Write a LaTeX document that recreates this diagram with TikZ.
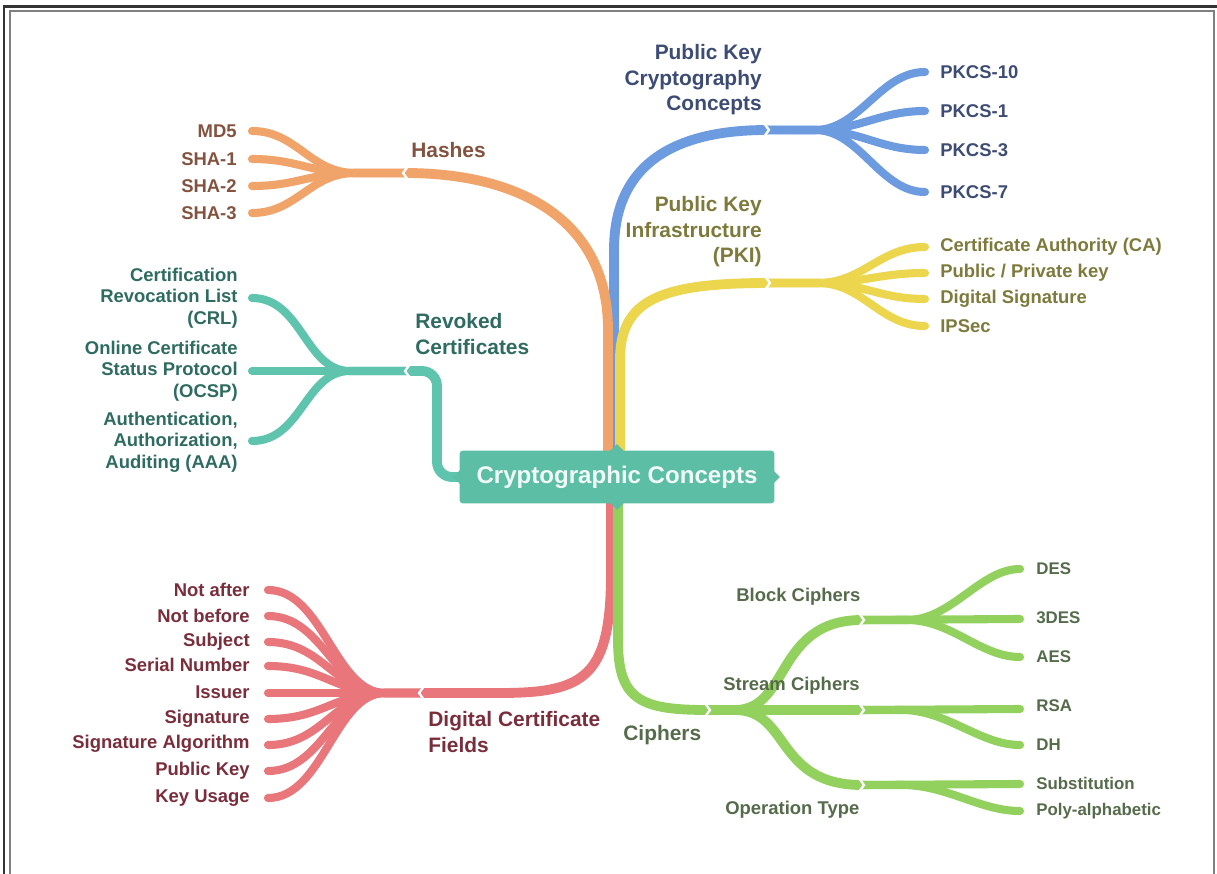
\documentclass[tikz,border=0pt]{standalone}
\usepackage{fontspec}
\setmainfont{Liberation Sans}
\definecolor{orL}{HTML}{F0A46A}
\definecolor{orT}{HTML}{84533F}
\definecolor{blL}{HTML}{6C9BE0}
\definecolor{blT}{HTML}{3D4C74}
\definecolor{yeL}{HTML}{EBD64E}
\definecolor{yeT}{HTML}{7D7A3C}
\definecolor{teL}{HTML}{5EC4AE}
\definecolor{teT}{HTML}{2E6B60}
\definecolor{boxC}{HTML}{5BBEA5}
\definecolor{reL}{HTML}{E8767A}
\definecolor{reT}{HTML}{7A2E3C}
\definecolor{grL}{HTML}{93D15E}
\definecolor{grT}{HTML}{566B4C}
\begin{document}
\begin{tikzpicture}[x=0.02cm,y=-0.02cm,
  trunk/.style={line width=5.6pt},
  leafline/.style={line width=4.6pt, line cap=round},
  notchw/.style={white, line width=1.3pt},
  lt/.style={font=\fontsize{10.5}{12.2}\selectfont\bfseries, inner sep=0pt},
  bt/.style={font=\fontsize{11.9}{14.5}\selectfont\bfseries, inner sep=0pt},
  gt/.style={font=\fontsize{9.6}{11}\selectfont\bfseries, inner sep=0pt},
  lR/.style={lt, anchor=east, align=right},
  lL/.style={lt, anchor=west, align=left},
]
\useasboundingbox (0,0) rectangle (1217,874);
\fill[white] (0,0) rectangle (1217,874);
% frame
\draw[line width=1.7pt, black!80] (4,874) -- (4,7) -- (1217,7);
\draw[line width=0.9pt, black!50] (10,874) -- (10,11) -- (1214,11) -- (1214,874);

% ---------- coordinates ----------
\coordinate (oS) at (608,452);
\coordinate (bS) at (614,452);
\coordinate (yS) at (620,452);
\coordinate (tS) at (458,477);
\coordinate (rS) at (611,502);
\coordinate (gS) at (618,502);

\coordinate (hJ) at (405,173);  \coordinate (hS) at (355,173);
\coordinate (md5t) at (252,131); \coordinate (sha1t) at (252,159);
\coordinate (sha2t) at (252,186); \coordinate (sha3t) at (252,213);

\coordinate (bJ) at (767,130);  \coordinate (bSp) at (815,130);
\coordinate (p10t) at (925,72);  \coordinate (p1t) at (925,111);
\coordinate (p3t) at (925,150);  \coordinate (p7t) at (925,192);

\coordinate (yJ) at (768,283);  \coordinate (ySp) at (818,283);
\coordinate (cat) at (925,247);  \coordinate (ppt) at (925,273);
\coordinate (dst) at (925,299);  \coordinate (ipt) at (925,326);

\coordinate (tJ) at (407,371);  \coordinate (tSp) at (350,371);
\coordinate (crlt) at (252,298); \coordinate (ocspt) at (252,371);
\coordinate (aaat) at (252,441);

\coordinate (rJ) at (421,693);  \coordinate (rSp) at (385,693);
\coordinate (r1) at (268,590); \coordinate (r2) at (268,616);
\coordinate (r3) at (268,642); \coordinate (r4) at (268,666);
\coordinate (r5) at (268,693); \coordinate (r6) at (268,719);
\coordinate (r7) at (268,745); \coordinate (r8) at (268,771);
\coordinate (r9) at (268,798);

\coordinate (gJ) at (708,710);
\coordinate (bcJ) at (862,620); \coordinate (scJ) at (862,710); \coordinate (otJ) at (862,785);
\coordinate (dest) at (1020,569); \coordinate (des3t) at (1020,619); \coordinate (aest) at (1020,657);
\coordinate (rsat) at (1020,709); \coordinate (dht) at (1020,745);
\coordinate (subt) at (1020,784); \coordinate (polyt) at (1020,811);

% ---------- trunks ----------
\draw[trunk,blL] (bS) -- ++(0,-202) .. controls +(0,-90) and +(-87,0) .. (bJ);
\draw[trunk,orL] (oS) -- ++(0,-122) .. controls +(0,-110) and +(115,0) .. (hJ);
\draw[trunk,yeL] (yS) -- ++(0,-92) .. controls +(0,-60) and +(-108,0) .. (yJ);
\draw[trunk,teL,rounded corners=0.3cm] (tS) -- ++(-21,0) -- ++(0,-106) -- (tJ);
\draw[trunk,reL] (rS) -- ++(0,70) .. controls +(0,105) and +(85,0) .. ++(-111,121) -- (rJ);
\draw[trunk,grL] (gS) -- ++(0,138) .. controls +(0,60) and +(-68,0) .. (gJ);

% ---------- fans ----------
\foreach \t in {md5t,sha1t,sha2t,sha3t}
  \draw[leafline,orL] (hJ) -- (hS) .. controls +(-45,0) and +(45,0) .. (\t);
\foreach \t in {p10t,p1t,p3t,p7t}
  \draw[leafline,blL] (bJ) -- (bSp) .. controls +(45,0) and +(-45,0) .. (\t);
\foreach \t in {cat,ppt,dst,ipt}
  \draw[leafline,yeL] (yJ) -- (ySp) .. controls +(45,0) and +(-45,0) .. (\t);
\foreach \t in {crlt,ocspt,aaat}
  \draw[leafline,teL] (tJ) -- (tSp) .. controls +(-45,0) and +(50,0) .. (\t);
\foreach \t in {r1,r2,r3,r4,r5,r6,r7,r8,r9}
  \draw[leafline,reL] (rJ) -- (rSp) .. controls +(-50,0) and +(55,0) .. (\t);

% green sub-branches
\draw[trunk,grL] (gJ) -- ++(27,0) .. controls +(55,0) and +(-87,0) .. (bcJ);
\draw[trunk,grL] (gJ) -- (scJ);
\draw[trunk,grL] (gJ) -- ++(27,0) .. controls +(55,0) and +(-87,0) .. (otJ);
\draw[leafline,grL] (bcJ) -- ++(45,0) .. controls +(45,0) and +(-40,0) .. (dest);
\draw[leafline,grL] (bcJ) -- (des3t);
\draw[leafline,grL] (bcJ) -- ++(45,0) .. controls +(45,0) and +(-40,0) .. (aest);
\draw[leafline,grL] (scJ) -- (rsat);
\draw[leafline,grL] (scJ) -- ++(40,0) .. controls +(45,0) and +(-40,0) .. (dht);
\draw[leafline,grL] (otJ) -- (subt);
\draw[leafline,grL] (otJ) -- ++(40,0) .. controls +(45,0) and +(-40,0) .. (polyt);

% ---------- notches ----------
\foreach \j in {hJ,tJ,rJ}
  \draw[notchw] (\j) ++(4,-8) -- ++(-6,8) -- ++(6,8);
\foreach \j in {bJ,yJ,gJ,bcJ,scJ,otJ}
  \draw[notchw] (\j) ++(-4,-8) -- ++(6,8) -- ++(-6,8);

% ---------- centre ----------
\node[fill=boxC, rounded corners=2pt, minimum width=6.3cm, minimum height=1.06cm,
      text=white!92!boxC, font=\fontsize{13.7}{16}\selectfont\bfseries] (cc) at (617,477) {Cryptographic Concepts};
\fill[boxC] (cc.north) ++(-7,1) -- ++(7,-7) -- ++(7,7) -- cycle;
\fill[boxC] (cc.south) ++(-7,-1) -- ++(7,7) -- ++(7,-7) -- cycle;
\fill[boxC] (cc.west) ++(1,-7) -- ++(-7,7) -- ++(7,7) -- cycle;
\fill[boxC] (cc.east) ++(-1,-6) -- ++(6,6) -- ++(-6,6) -- cycle;

% ---------- labels ----------
\node[bt, anchor=west, text=orT] (hashes) at (411,150) {Hashes};
\node[lR, text=orT] (md5) at (237,131) {MD5};
\node[lR, text=orT] (sha1) at (237,159) {SHA-1};
\node[lR, text=orT] (sha2) at (237,186) {SHA-2};
\node[lR, text=orT] (sha3) at (237,213) {SHA-3};

\node[bt, anchor=east, align=right, text=blT] (pkc) at (762,80) {Public Key\\Cryptography\\Concepts};
\node[lL, text=blT] (pk10) at (940,72) {PKCS-10};
\node[lL, text=blT] (pk1) at (940,111) {PKCS-1};
\node[lL, text=blT] (pk3) at (940,150) {PKCS-3};
\node[lL, text=blT] (pk7) at (940,192) {PKCS-7};

\node[bt, anchor=east, align=right, text=yeT] (pki) at (762,232) {Public Key\\Infrastructure\\(PKI)};
\node[lL, text=yeT] (ca) at (940,247) {Certificate Authority (CA)};
\node[lL, text=yeT] (pp) at (940,273) {Public / Private key};
\node[lL, text=yeT] (ds) at (940,299) {Digital Signature};
\node[lL, text=yeT] (ips) at (940,326) {IPSec};

\node[bt, anchor=west, align=left, text=teT] (rev) at (415,334) {Revoked\\Certificates};
\node[lR, text=teT] (crl) at (238,298) {Certification\\Revocation List\\(CRL)};
\node[lR, text=teT] (ocsp) at (238,371) {Online Certificate\\Status Protocol\\(OCSP)};
\node[lR, text=teT] (aaa) at (238,442) {Authentication,\\Authorization,\\Auditing (AAA)};

\node[bt, anchor=west, align=left, text=reT] (dcf) at (428,732) {Digital Certificate\\Fields};
\node[lR, text=reT] (na) at (250,590) {Not after};
\node[lR, text=reT] (nb) at (250,616) {Not before};
\node[lR, text=reT] (sub) at (250,642) {Subject};
\node[lR, text=reT] (sn) at (250,665) {Serial Number};
\node[lR, text=reT] (iss) at (250,692) {Issuer};
\node[lR, text=reT] (sig) at (250,719) {Signature};
\node[lR, text=reT] (sa) at (250,744) {Signature Algorithm};
\node[lR, text=reT] (pubk) at (250,771) {Public Key};
\node[lR, text=reT] (ku) at (250,798) {Key Usage};

\node[bt, anchor=west, text=grT] (ciph) at (623,735) {Ciphers};
\node[lL, text=grT] (bc) at (736,597) {Block Ciphers};
\node[lL, text=grT] (sc) at (723,686) {Stream Ciphers};
\node[lL, text=grT] (ot) at (725,810) {Operation Type};
\node[gt, anchor=west, text=grT] (des) at (1036,569) {DES};
\node[gt, anchor=west, text=grT] (des3) at (1036,618) {3DES};
\node[gt, anchor=west, text=grT] (aes) at (1036,657) {AES};
\node[gt, anchor=west, text=grT] (rsa) at (1036,706) {RSA};
\node[gt, anchor=west, text=grT] (dh) at (1036,745) {DH};
\node[gt, anchor=west, text=grT] (subs) at (1036,783) {Substitution};
\node[gt, anchor=west, text=grT] (poly) at (1036,811) {Poly-alphabetic};
\end{tikzpicture}
\end{document}
